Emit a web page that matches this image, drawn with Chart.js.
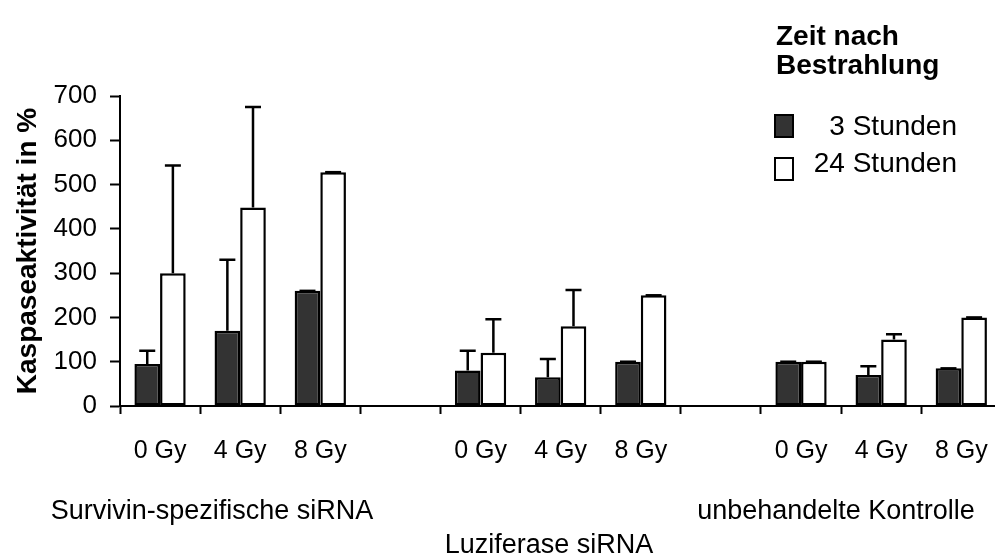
<!DOCTYPE html>
<html lang="de">
<head>
<meta charset="utf-8">
<title>Kaspaseaktivität</title>
<script src="https://cdn.jsdelivr.net/npm/chart.js@4/dist/chart.umd.min.js"></script>
<style>
  html, body { margin: 0; padding: 0; background: #fff; overflow: hidden; }
  #wrap { width: 995px; height: 554px; overflow: hidden; }
</style>
</head>
<body>
<div id="wrap"><canvas id="chart" width="1010" height="554"></canvas></div>
<script>
// Daten
const categories = ['0 Gy', '4 Gy', '8 Gy', '', '0 Gy', '4 Gy', '8 Gy', '', '0 Gy', '4 Gy', '8 Gy'];
const values3h  = [95, 170, 260, null, 80, 65, 100, null, 100, 70, 85];
const values24h = [300, 448, 528, null, 120, 180, 250, null, 100, 150, 200];
const errors3h  = [30, 160, 0, null, 45, 41, 0, null, 0, 20, 0];
const errors24h = [243, 227, 0, null, 76, 82, 0, null, 0, 12, 0];
const seriesNames = ['3 Stunden', '24 Stunden'];
const yTicks = [0, 100, 200, 300, 400, 500, 600, 700];
const groupLabels = ['Survivin-spezifische siRNA', 'Luziferase siRNA', 'unbehandelte Kontrolle'];
const legendTitle = ['Zeit nach', 'Bestrahlung'];
const yTitle = 'Kaspaseaktivität in %';

const FONT = '"Liberation Sans", Arial, sans-serif';

// Fehlerbalken (nur nach oben, mit Querstrich)
const errorBars = {
  id: 'errorBars',
  afterDatasetsDraw(chart) {
    const ctx = chart.ctx;
    const yScale = chart.scales.y;
    chart.data.datasets.forEach((ds, di) => {
      const meta = chart.getDatasetMeta(di);
      ds.errors.forEach((err, i) => {
        if (err == null || ds.data[i] == null) return;
        const bar = meta.data[i];
        const top = yScale.getPixelForValue(ds.data[i] + err);
        ctx.save();
        ctx.strokeStyle = '#000';
        ctx.lineWidth = 2.5;
        ctx.beginPath();
        ctx.moveTo(bar.x, bar.y);
        ctx.lineTo(bar.x, top);
        ctx.moveTo(bar.x - 8, top);
        ctx.lineTo(bar.x + 8, top);
        ctx.stroke();
        ctx.restore();
      });
    });
  }
};

// Gruppenbeschriftung und Legende
const annotations = {
  id: 'annotations',
  afterDraw(chart) {
    const ctx = chart.ctx;
    ctx.save();
    ctx.fillStyle = '#000';
    ctx.textBaseline = 'middle';

    ctx.font = '27px ' + FONT;
    ctx.textAlign = 'center';
    ctx.fillText(groupLabels[0], 212, 512);
    ctx.fillText(groupLabels[1], 549, 546);
    ctx.fillText(groupLabels[2], 836, 512);

    // Legendentitel
    ctx.font = 'bold 28px ' + FONT;
    ctx.textAlign = 'left';
    ctx.fillText(legendTitle[0], 776, 37);
    ctx.fillText(legendTitle[1], 776, 66);

    // Legendeneinträge
    const boxY = [115, 158];
    const textY = [127, 164];
    ctx.font = '28px ' + FONT;
    chart.data.datasets.forEach((ds, i) => {
      ctx.fillStyle = ds.backgroundColor;
      ctx.fillRect(775, boxY[i], 18, 22);
      ctx.strokeStyle = '#000';
      ctx.lineWidth = 2;
      ctx.strokeRect(775, boxY[i], 18, 22);
      ctx.fillStyle = '#000';
      ctx.textAlign = 'right';
      ctx.fillText(ds.label, 957, textY[i]);
    });
    ctx.restore();
  }
};

new Chart(document.getElementById('chart'), {
  type: 'bar',
  data: {
    labels: categories,
    datasets: [
      {
        label: seriesNames[0],
        data: values3h,
        errors: errors3h,
        backgroundColor: '#333333',
        borderColor: '#000',
        borderWidth: 2.5,
        borderSkipped: false,
      },
      {
        label: seriesNames[1],
        data: values24h,
        errors: errors24h,
        backgroundColor: '#ffffff',
        borderColor: '#000',
        borderWidth: 2.5,
        borderSkipped: false,
      },
    ],
  },
  options: {
    responsive: false,
    animation: false,
    devicePixelRatio: 1,
    categoryPercentage: 0.64,
    barPercentage: 1.0,
    layout: { padding: { left: 0, right: 7, top: 96, bottom: 0 } },
    plugins: {
      legend: { display: false },
      tooltip: { enabled: false },
    },
    scales: {
      x: {
        afterFit: (scale) => { scale.height = 148; },
        grid: {
          offset: true,
          drawOnChartArea: false,
          drawTicks: true,
          tickLength: 8,
          tickWidth: 2,
          tickColor: '#000',
        },
        border: { color: '#000', width: 2 },
        ticks: {
          autoSkip: false,
          maxRotation: 0,
          padding: 22,
          color: '#000',
          font: { family: FONT, size: 25 },
        },
      },
      y: {
        min: 0,
        max: 700,
        afterFit: (scale) => { scale.width = 120; },
        afterBuildTicks: (scale) => { scale.ticks = yTicks.map(v => ({ value: v })); },
        grid: {
          drawOnChartArea: false,
          drawTicks: true,
          tickLength: 10,
          tickWidth: 2,
          tickColor: '#000',
        },
        border: { color: '#000', width: 2 },
        ticks: {
          padding: 13,
          color: '#000',
          font: { family: FONT, size: 26 },
        },
        title: {
          display: true,
          text: yTitle,
          color: '#000',
          padding: { top: 11, bottom: 0 },
          font: { family: FONT, size: 28, weight: 'bold' },
        },
      },
    },
  },
  plugins: [errorBars, annotations],
});
</script>
</body>
</html>
